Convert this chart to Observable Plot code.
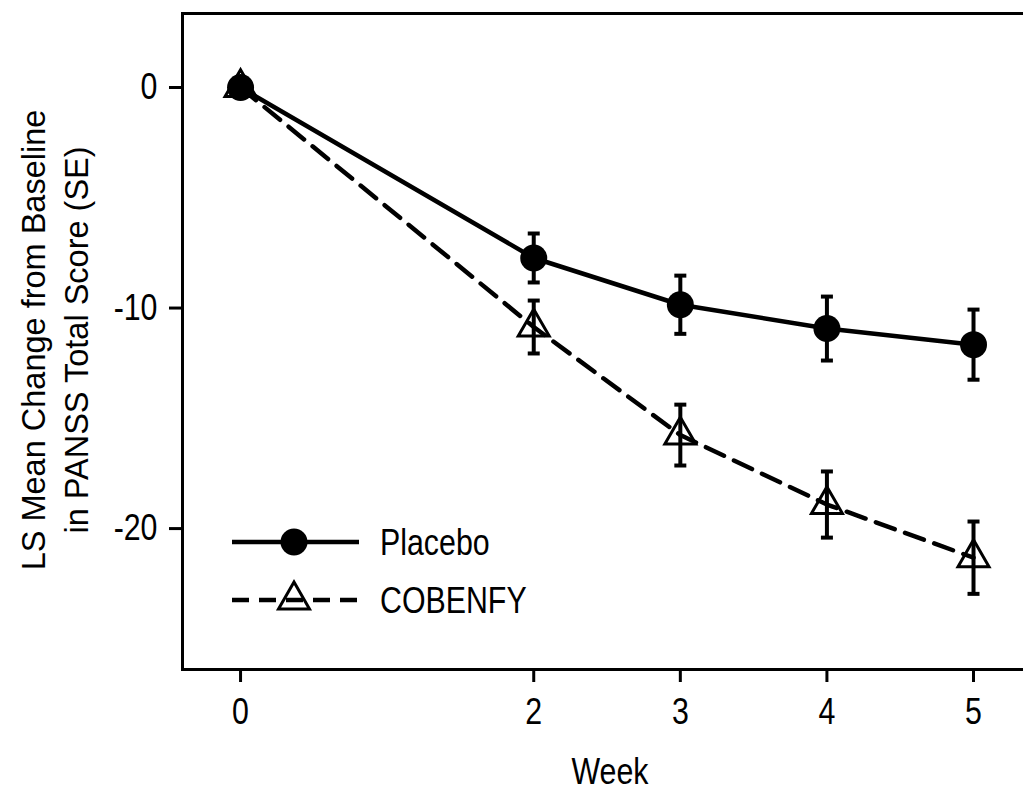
<!DOCTYPE html>
<html>
<head>
<meta charset="utf-8">
<script src="https://cdn.jsdelivr.net/npm/d3@7"></script>
<script src="https://cdn.jsdelivr.net/npm/@observablehq/plot@0.6"></script>
<style>
  html, body { margin: 0; padding: 0; background: #fff; overflow: hidden; }
  #chart svg { display: block; }
</style>
</head>
<body>
<div id="chart"></div>
<script>
// ---- data ----
const weeks = [0, 2, 3, 4, 5];
const placeboMean = [0, -7.73, -9.85, -10.93, -11.66];
const placeboSE   = [0, 1.11, 1.32, 1.45, 1.59];
const cobenfyMean = [0, -10.86, -15.76, -18.91, -21.32];
const cobenfySE   = [0, 1.20, 1.38, 1.50, 1.64];
const yTicks = [0, -10, -20];
const seriesNames = ["Placebo", "COBENFY"];
const xLabel = "Week";
const yLabelLines = ["LS Mean Change from Baseline", "in PANSS Total Score (SE)"];

const placebo = weeks.map((w, i) => ({week: w, mean: placeboMean[i], se: placeboSE[i]}));
const cobenfy = weeks.map((w, i) => ({week: w, mean: cobenfyMean[i], se: cobenfySE[i]}));
const errP = placebo.filter(d => d.se > 0);
const errC = cobenfy.filter(d => d.se > 0);

const capSymbol = {draw(ctx) { ctx.moveTo(-6, 0); ctx.lineTo(6, 0); }};

const font = "'Liberation Sans', Arial, sans-serif";
const squeeze = "scale(0.82,1)"; // narrow (condensed) look of the original typeface

const chart = Plot.plot({
  width: 1023,
  height: 791,
  marginLeft: 182,
  marginTop: 13,
  marginBottom: 122,
  marginRight: 0,
  style: {fontFamily: font, fontSize: "37px", color: "#000", background: "#fff"},
  x: {domain: [-0.396, 5.341]},
  y: {domain: [-26.39, 3.356]},
  marks: [
    Plot.frame({stroke: "#000", strokeWidth: 3, insetRight: -20}),
    Plot.axisX({ticks: weeks, tickFormat: d => String(d), tickSize: 13, tickPadding: 15, strokeWidth: 3, fontSize: 37, label: null}),
    Plot.axisY({ticks: yTicks, tickFormat: d => String(d), tickSize: 13, tickPadding: 12, strokeWidth: 3, fontSize: 37, label: null}),
    // COBENFY
    Plot.line(cobenfy, {x: "week", y: "mean", stroke: "#000", strokeWidth: 4.5, strokeDasharray: "20,11"}),
    Plot.ruleX(errC, {x: "week", y1: d => d.mean - d.se, y2: d => d.mean + d.se, stroke: "#000", strokeWidth: 4}),
    Plot.dot(errC, {x: "week", y: d => d.mean - d.se, symbol: capSymbol, stroke: "#000", strokeWidth: 4, r: 5}),
    Plot.dot(errC, {x: "week", y: d => d.mean + d.se, symbol: capSymbol, stroke: "#000", strokeWidth: 4, r: 5}),
    Plot.dot(cobenfy, {x: "week", y: "mean", symbol: "triangle", r: 11.5, stroke: "#000", strokeWidth: 3, fill: "none"}),
    // Placebo
    Plot.line(placebo, {x: "week", y: "mean", stroke: "#000", strokeWidth: 4.5}),
    Plot.ruleX(errP, {x: "week", y1: d => d.mean - d.se, y2: d => d.mean + d.se, stroke: "#000", strokeWidth: 4}),
    Plot.dot(errP, {x: "week", y: d => d.mean - d.se, symbol: capSymbol, stroke: "#000", strokeWidth: 4, r: 5}),
    Plot.dot(errP, {x: "week", y: d => d.mean + d.se, symbol: capSymbol, stroke: "#000", strokeWidth: 4, r: 5}),
    Plot.dot(placebo, {x: "week", y: "mean", r: 13.5, fill: "#000", stroke: "none"})
  ]
});

document.getElementById("chart").appendChild(chart);

const svg = d3.select(chart);

// condensed look for tick labels
svg.selectAll('g[aria-label="x-axis tick label"] text, g[aria-label="y-axis tick label"] text')
  .each(function() {
    const t = this.getAttribute("transform") || "";
    this.setAttribute("transform", t + " " + squeeze);
  });

// ---- axis titles & legend (layout overlay) ----
svg.append("text")
  .attr("transform", `translate(610,784) ${squeeze}`)
  .attr("text-anchor", "middle")
  .style("font-family", font).style("font-size", "37px")
  .attr("fill", "#000")
  .text(xLabel);

yLabelLines.forEach((t, i) => {
  svg.append("text")
    .attr("transform", `translate(${45 + i * 43},340) rotate(-90)`)
    .attr("text-anchor", "middle")
    .style("font-family", font).style("font-size", "32.5px")
    .attr("fill", "#000")
    .text(t);
});

const leg = svg.append("g");
const rows = [
  {name: seriesNames[0], y: 542, dash: null, sym: "circle"},
  {name: seriesNames[1], y: 600, dash: "17,10", sym: "triangle"}
];
rows.forEach(r => {
  leg.append("line")
    .attr("x1", 232).attr("x2", 359).attr("y1", r.y).attr("y2", r.y)
    .attr("stroke", "#000").attr("stroke-width", 4.5)
    .attr("stroke-dasharray", r.dash);
  if (r.sym === "circle") {
    leg.append("circle").attr("cx", 294).attr("cy", r.y).attr("r", 13.5).attr("fill", "#000");
  } else {
    leg.append("path")
      .attr("transform", `translate(294,${r.y})`)
      .attr("d", d3.symbol(d3.symbolTriangle, Math.PI * 11.5 * 11.5)())
      .attr("fill", "none").attr("stroke", "#000").attr("stroke-width", 3);
  }
  leg.append("text")
    .attr("transform", `translate(380,${r.y + 13}) ${squeeze}`)
    .attr("text-anchor", "start")
    .style("font-family", font).style("font-size", "37px")
    .attr("fill", "#000")
    .text(r.name);
});
</script>
</body>
</html>
